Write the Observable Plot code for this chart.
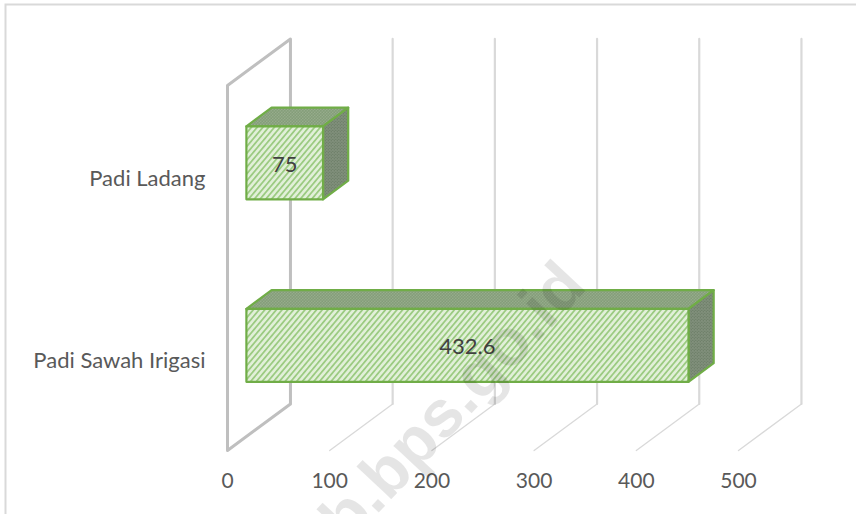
<!DOCTYPE html>
<html>
<head>
<meta charset="utf-8">
<script src="https://cdn.jsdelivr.net/npm/d3@7"></script>
<script src="https://cdn.jsdelivr.net/npm/@observablehq/plot@0.6"></script>
<style>html,body{margin:0;padding:0;background:#fff;overflow:hidden}svg{display:block}</style>
</head>
<body>
<div id="chart"></div>
<script>
const categories = ["Padi Sawah Irigasi", "Padi Ladang"];
const values = [432.6, 75];
const valueLabels = ["432.6", "75"];
const xTicks = [0, 100, 200, 300, 400, 500];
const watermark = ["b.bps.go.id"];

// oblique projection of the 3D box: depth 0..1 shifts along both value and category axes
const depthX = 61.6, depthY = 0.255;
const barDepthStart = 0.3, barDepthEnd = 0.7, barHalf = 0.2;
const P = (v, c, d) => ({x: v + d * depthX, y: c + d * depthY});
const poly = (id, pts) => pts.map(([v, c, d]) => ({id, ...P(v, c, d)}));

const gridBack = xTicks.slice(1).flatMap((t) => poly(t, [[t, 0, 1], [t, 2, 1]]));
const gridFloor = xTicks.slice(1).flatMap((t) => poly(t, [[t, 0, 0], [t, 0, 1]]));
const wall = poly("wall", [[0, 0, 1], [0, 2, 1], [0, 2, 0], [0, 0, 0], [0, 0, 1]]);

const d0 = barDepthStart, d1 = barDepthEnd;
const box = values.map((v, i) => ({v, lo: i + 0.5 - barHalf, hi: i + 0.5 + barHalf, i}));
const fronts = box.flatMap((b) => poly("f" + b.i, [[0, b.lo, d0], [b.v, b.lo, d0], [b.v, b.hi, d0], [0, b.hi, d0], [0, b.lo, d0]]));
const tops = box.flatMap((b) => poly("t" + b.i, [[0, b.hi, d0], [b.v, b.hi, d0], [b.v, b.hi, d1], [0, b.hi, d1], [0, b.hi, d0]]));
const sides = box.flatMap((b) => poly("s" + b.i, [[b.v, b.lo, d0], [b.v, b.lo, d1], [b.v, b.hi, d1], [b.v, b.hi, d0], [b.v, b.lo, d0]]));

const defs = () => {
  const ns = "http://www.w3.org/2000/svg";
  const d = document.createElementNS(ns, "defs");
  d.innerHTML = `
  <pattern id="hFront" width="4.4" height="4.4" patternUnits="userSpaceOnUse" patternTransform="rotate(40)">
    <rect width="4.4" height="4.4" fill="#e2f0d9"/><rect width="1.8" height="4.4" fill="#9ccb82"/>
  </pattern>
  <pattern id="hTop" width="3" height="3" patternUnits="userSpaceOnUse">
    <rect width="3" height="3" fill="#aebda4"/><circle cx="0.8" cy="0.8" r="0.85" fill="#65875a"/><circle cx="2.3" cy="2.3" r="0.85" fill="#65875a"/>
  </pattern>
  <pattern id="hSide" width="3" height="3" patternUnits="userSpaceOnUse">
    <rect width="3" height="3" fill="#5f7358"/><circle cx="0.8" cy="0.8" r="0.8" fill="#a3ada0"/><circle cx="2.3" cy="2.3" r="0.8" fill="#a3ada0"/>
  </pattern>`;
  return d;
};

const font = "Lato, Carlito, 'Open Sans', sans-serif";
const ink = "#595959";
const greenStroke = "#70ad47";
const faceOpts = {x: "x", y: "y", z: "id", stroke: greenStroke, strokeWidth: 2.2, strokeLinejoin: "round", curve: "linear"};

const chart = Plot.plot({
  width: 856,
  height: 514,
  margin: 0,
  style: {background: "#fff", overflow: "hidden"},
  x: {type: "linear", domain: [0, 500], range: [227, 738], axis: null},
  y: {type: "linear", domain: [0, 2], range: [450, 85], axis: null},
  marks: [
    defs,
    Plot.frame({stroke: "#d9d9d9", strokeWidth: 2, insetLeft: 5, insetTop: 4, insetRight: -6, insetBottom: -6}),
    Plot.line(gridBack, {x: "x", y: "y", z: "id", stroke: "#d9d9d9", strokeWidth: 2.2, curve: "linear"}),
    Plot.line(gridFloor, {x: "x", y: "y", z: "id", stroke: "#d9d9d9", strokeWidth: 1.3, curve: "linear"}),
    Plot.line(wall, {x: "x", y: "y", z: "id", stroke: "#bfbfbf", strokeWidth: 3, strokeLinejoin: "round", curve: "linear"}),
    Plot.line(tops, {...faceOpts, fill: "url(#hTop)"}),
    Plot.line(sides, {...faceOpts, fill: "url(#hSide)"}),
    Plot.line(fronts, {...faceOpts, fill: "url(#hFront)"}),
    Plot.text(box, {
      x: (b) => P(b.v / 2, 0, d0).x,
      y: (b) => P(0, b.i + 0.5, d0).y,
      dy: 2,
      text: (b) => valueLabels[b.i],
      fontFamily: font, fontSize: 22, fill: "#404040"
    }),
    Plot.text(categories, {
      x: () => 0,
      y: (d, i) => i + 0.5,
      dx: -22, dy: 2,
      text: (d) => d,
      textAnchor: "end",
      fontFamily: font, fontSize: 22, fill: ink
    }),
    Plot.text(xTicks, {
      x: (d) => d,
      y: () => 0,
      dy: 31,
      text: (d) => String(d),
      fontFamily: font, fontSize: 21, fill: ink
    }),
    Plot.text(watermark, {
      x: () => 338,
      y: () => 0.97,
      text: (d) => d,
      rotate: -47,
      textAnchor: "end",
      fontFamily: "'Liberation Sans', Arial, sans-serif",
      fontWeight: "bold",
      fontSize: 66,
      fill: "#000",
      fillOpacity: 0.1
    })
  ]
});
document.getElementById("chart").appendChild(chart);
</script>
</body>
</html>
